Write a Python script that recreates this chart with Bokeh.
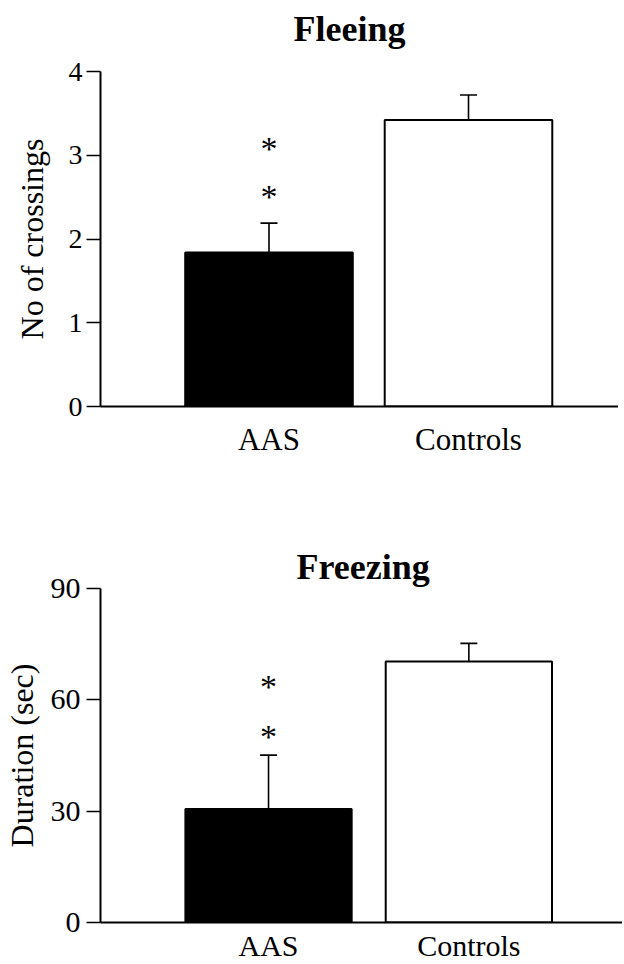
from bokeh.plotting import figure
from bokeh.models import Range1d, FixedTicker, ColumnDataSource, Whisker, TeeHead, Title
from bokeh.layouts import column
from bokeh.core.properties import value
from bokeh.embed import file_html
from bokeh.resources import INLINE

# ---- data ----
categories = ["AAS", "Controls"]
bar_colors = ["black", "white"]

fleeing_means = [1.84, 3.42]
fleeing_sem = [0.35, 0.30]
fleeing_stars = [3.12, 2.54]
fleeing_ticks = [0, 1, 2, 3, 4]

freezing_means = [30.6, 70.3]
freezing_sem = [14.5, 4.9]
freezing_stars = [64.3, 50.8]
freezing_ticks = [0, 30, 60, 90]

FONT = "Liberation Serif"


def panel(title, ylabel, means, sem, stars, ticks, xr, ymax, fw, fh, left, top, bottom,
          title_offset, gap_standoff, tick_font, ylab_font, ylab_standoff, tick_standoff,
          cat_standoff, bar_w, title_font, cat_font):
    idx = list(range(len(categories)))
    p = figure(frame_width=fw, frame_height=fh, x_range=Range1d(*xr), y_range=Range1d(0, ymax),
               output_backend="svg", toolbar_location=None, min_border_left=left,
               min_border_right=0, min_border_top=top, min_border_bottom=bottom)
    p.title = Title(text=title, align="left", offset=title_offset, standoff=0,
                    vertical_align="top",
                    text_font=FONT, text_font_size=title_font, text_font_style="bold",
                    text_color="black")
    p.outline_line_color = None
    p.grid.visible = False
    p.background_fill_color = "white"
    p.border_fill_color = "white"

    src = ColumnDataSource(dict(x=idx, top=means, color=bar_colors,
                                upper=[m + s for m, s in zip(means, sem)]))
    p.vbar(x="x", top="top", width=bar_w, bottom=0, fill_color="color",
           line_color="black", line_width=2, source=src)
    w = Whisker(base="x", lower="top", upper="upper", source=src, dimension="height",
                line_color="black", line_width=1.6, lower_head=None,
                upper_head=TeeHead(size=17, line_color="black", line_width=1.6))
    p.add_layout(w)

    p.text(x=[idx[0]] * len(stars), y=stars, text=["*"] * len(stars),
           text_font=value(FONT), text_font_size="34px", text_align="center",
           text_baseline="middle", y_offset=3, text_color="black")

    xa = p.below[0]
    xa.ticker = FixedTicker(ticks=idx)
    xa.major_label_overrides = {i: c for i, c in zip(idx, categories)}
    xa.major_tick_out = 0
    xa.major_tick_in = 0
    xa.minor_tick_out = 0
    xa.minor_tick_in = 0
    xa.axis_line_width = 2
    xa.axis_line_color = "black"
    xa.major_label_text_font = FONT
    xa.major_label_text_font_size = cat_font
    xa.major_label_text_color = "black"
    xa.major_label_standoff = cat_standoff

    ya = p.left[0]
    ya.ticker = FixedTicker(ticks=ticks)
    ya.minor_tick_out = 0
    ya.minor_tick_in = 0
    ya.major_tick_out = 14
    ya.major_tick_in = 0
    ya.major_tick_line_width = 1.5
    ya.axis_line_width = 2
    ya.axis_line_color = "black"
    ya.major_label_text_font = FONT
    ya.major_label_text_font_size = tick_font
    ya.major_label_text_color = "black"
    ya.major_label_standoff = tick_standoff
    ya.axis_label = ylabel
    ya.axis_label_text_font = FONT
    ya.axis_label_text_font_size = ylab_font
    ya.axis_label_text_font_style = "normal"
    ya.axis_label_text_color = "black"
    ya.axis_label_standoff = ylab_standoff

    # blank spacer between the title and the plot area
    if gap_standoff is not None:
        p.add_layout(Title(text=" ", text_font_size="8px", standoff=gap_standoff,
                           text_font=FONT), "above")
    return p


p1 = panel("Fleeing", "No of crossings", fleeing_means, fleeing_sem, fleeing_stars,
           fleeing_ticks, (-0.8446, 1.802), 4, 528, 335, 88, 71, 78,
           193, 10, "28px", "32px", 16, 4, 15, 0.84, "36px", "31px")
p2 = panel("Freezing", "Duration (sec)", freezing_means, freezing_sem, freezing_stars,
           freezing_ticks, (-0.8388, 1.767), 90, 522, 334, 94, 104, 42,
           196, None, "30px", "32px", 8, 6, 6, 0.83, "36px", "30px")

layout = column(p1, p2, spacing=0)
open("out.html", "w").write(file_html(layout, INLINE))
